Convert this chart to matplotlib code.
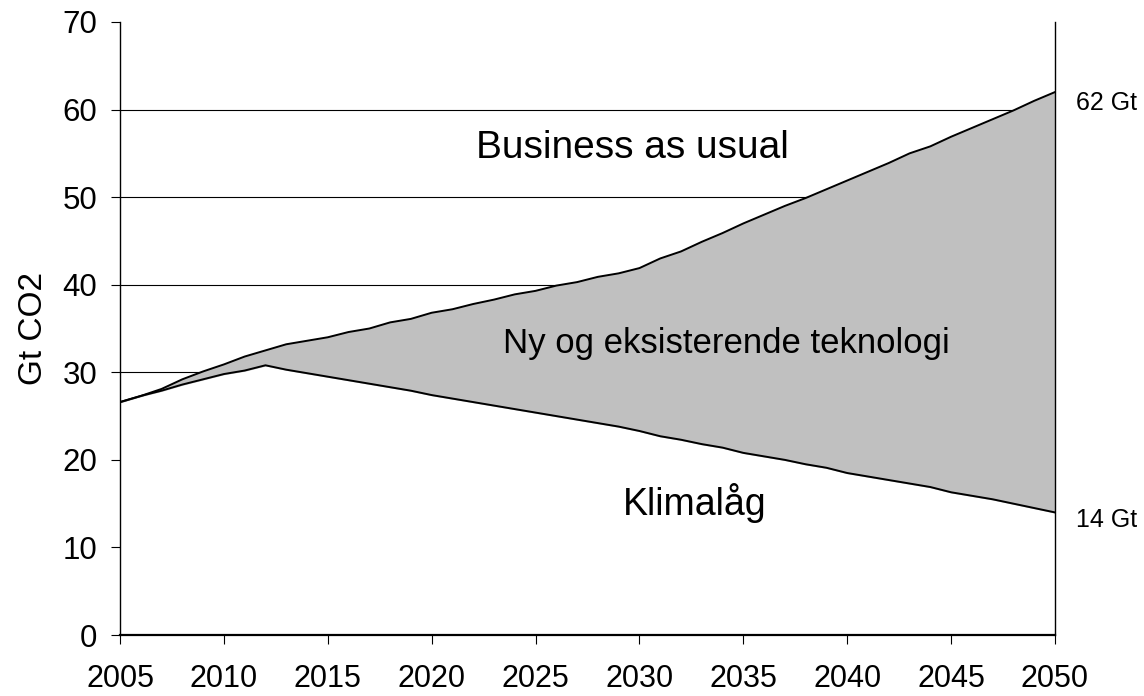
import matplotlib
matplotlib.use('Agg')
import matplotlib.pyplot as plt

plt.rcParams['font.family'] = ['Liberation Sans', 'DejaVu Sans']

years = list(range(2005, 2051))

# Business as usual (upper curve)
bau = [26.6, 27.3, 28.1, 29.2, 30.1, 30.9, 31.8, 32.5, 33.2, 33.6,
       34.0, 34.6, 35.0, 35.7, 36.1, 36.8, 37.2, 37.8, 38.3, 38.9,
       39.3, 39.9, 40.3, 40.9, 41.3, 41.9, 43.0, 43.8, 44.9, 45.9,
       47.0, 48.0, 49.0, 49.9, 50.9, 51.9, 52.9, 53.9, 55.0, 55.8,
       56.9, 57.9, 58.9, 59.9, 61.0, 62.0]

# Klimalåg (lower curve)
klima = [26.6, 27.3, 27.9, 28.6, 29.2, 29.8, 30.2, 30.8, 30.3, 29.9,
         29.5, 29.1, 28.7, 28.3, 27.9, 27.4, 27.0, 26.6, 26.2, 25.8,
         25.4, 25.0, 24.6, 24.2, 23.8, 23.3, 22.7, 22.3, 21.8, 21.4,
         20.8, 20.4, 20.0, 19.5, 19.1, 18.5, 18.1, 17.7, 17.3, 16.9,
         16.3, 15.9, 15.5, 15.0, 14.5, 14.0]

yticks = [0, 10, 20, 30, 40, 50, 60, 70]
xticks = [2005, 2010, 2015, 2020, 2025, 2030, 2035, 2040, 2045, 2050]

fig = plt.figure(figsize=(11.44, 6.96), dpi=100)
ax = fig.add_axes([0.1049, 0.0876, 0.8173, 0.8808])

# gridlines (hidden under the white Klimalåg area)
for v in yticks[1:-1]:
    ax.axhline(v, color='black', linewidth=0.8, zorder=1)

ax.fill_between(years, 0, klima, color='white', zorder=2)
ax.fill_between(years, klima, bau, color='#c0c0c0', zorder=2)
ax.plot(years, bau, color='black', linewidth=1.4, zorder=3)
ax.plot(years, klima, color='black', linewidth=1.4, zorder=3)

ax.set_xlim(2005, 2050)
ax.set_ylim(0, 70)
ax.set_xticks(xticks)
ax.set_yticks(yticks)
ax.tick_params(axis='both', direction='out', length=6.5, width=0.8, labelsize=22.5)
ax.tick_params(axis='y', pad=10)
ax.tick_params(axis='x', labelsize=22, pad=14.5)
ax.spines['top'].set_visible(False)
for s in ['left', 'bottom', 'right']:
    ax.spines[s].set_linewidth(1.0)
ax.spines['bottom'].set_linewidth(1.6)

ax.set_ylabel('Gt CO2', fontsize=24)
ax.yaxis.set_label_coords(-0.076, 0.5)

ax.text(2022.13, 54.5, 'Business as usual', fontsize=28, ha='left', va='baseline')
ax.text(2023.42, 32.2, 'Ny og eksisterende teknologi', fontsize=25, ha='left', va='baseline')
ax.text(2029.2, 13.7, 'Klimalåg', fontsize=27, ha='left', va='baseline')
ax.text(2051.0, 60.0, '62 Gt', fontsize=18, ha='left', va='baseline', clip_on=False)
ax.text(2051.0, 12.3, '14 Gt', fontsize=18, ha='left', va='baseline', clip_on=False)

fig.savefig('out.png', dpi=100)
